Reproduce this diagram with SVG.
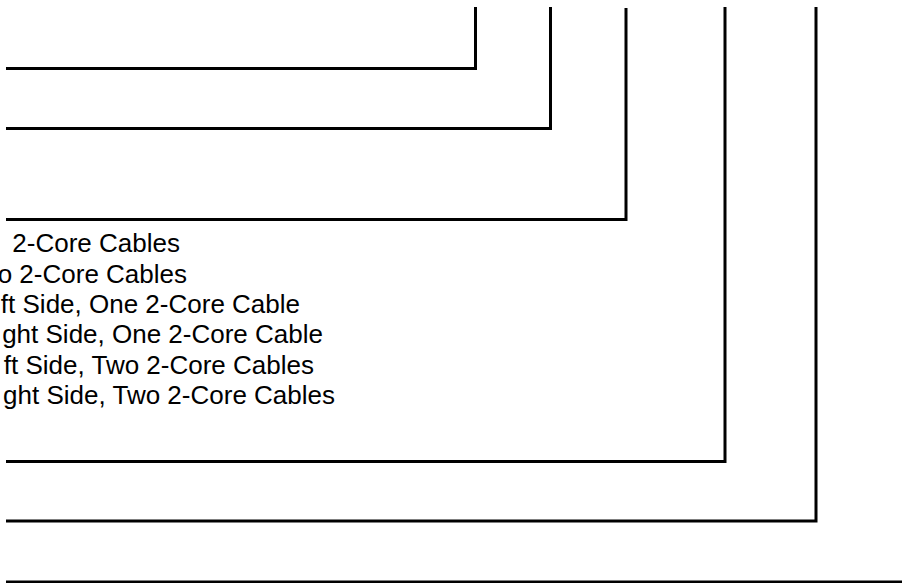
<svg xmlns="http://www.w3.org/2000/svg" width="902" height="583" viewBox="0 0 902 583">
  <style>
    .wire { fill: none; stroke: #000; stroke-width: 3; stroke-linejoin: miter; stroke-linecap: butt; }
    .lbl { font-family: "Liberation Sans", Arial, sans-serif; font-size: 26px; fill: #000; text-anchor: end; }
  </style>
  <rect x="0" y="0" width="902" height="583" fill="#fff"/>
  <g id="connectors">
    <path class="wire" d="M475.5,7 V68.5 H6"/>
    <path class="wire" d="M550.5,7 V128.5 H6"/>
    <path class="wire" d="M626,8 V219.5 H6"/>
    <path class="wire" d="M725,7 V461.5 H6"/>
    <path class="wire" d="M816,7 V521 H6"/>
    <path class="wire" d="M6,582 H902"/>
  </g>
  <g id="legend">
    <text class="lbl" x="180" y="252">2-Core Cables</text>
    <text class="lbl" x="187" y="282.5">o 2-Core Cables</text>
    <text class="lbl" x="300" y="313">ft Side, One 2-Core Cable</text>
    <text class="lbl" x="323" y="343">ght Side, One 2-Core Cable</text>
    <text class="lbl" x="314" y="373.5">ft Side, Two 2-Core Cables</text>
    <text class="lbl" x="335" y="404">ght Side, Two 2-Core Cables</text>
  </g>
</svg>
